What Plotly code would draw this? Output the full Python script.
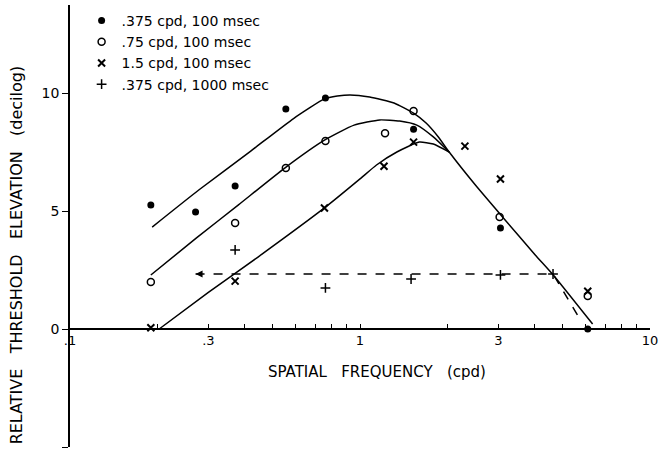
import plotly.graph_objects as go

# ---- data ----
x_tick_vals = [0.1, 0.3, 1, 3, 10]
x_tick_text = [".1", ".3", "1", "3", "10"]
x_minor_vals = [0.2, 0.4, 0.5, 0.6, 0.7, 0.8, 0.9, 2, 4, 5, 6, 7, 8, 9]
y_tick_vals = [-5, 0, 5, 10]
y_tick_text = ["-5", "0", "5", "10"]

legend_names = [".375 cpd, 100 msec", ".75 cpd, 100 msec", "1.5 cpd, 100 msec", ".375 cpd, 1000 msec"]

# .375 cpd, 100 msec (filled circles)
f375_x = [0.19, 0.271, 0.371, 0.555, 0.76, 1.53, 3.05, 6.1]
f375_y = [5.25, 4.96, 6.06, 9.32, 9.79, 8.47, 4.28, 0.0]
# .75 cpd, 100 msec (open circles)
o75_x = [0.19, 0.371, 0.555, 0.76, 1.22, 1.53, 3.03, 6.1]
o75_y = [1.99, 4.49, 6.82, 7.97, 8.30, 9.24, 4.75, 1.40]
# 1.5 cpd, 100 msec (crosses)
x15_x = [0.19, 0.371, 0.754, 1.21, 1.53, 2.3, 3.05, 6.1]
x15_y = [0.05, 2.03, 5.13, 6.90, 7.92, 7.75, 6.36, 1.60]
# .375 cpd, 1000 msec (plus)
p375_x = [0.371, 0.76, 1.5, 3.05, 4.63]
p375_y = [3.35, 1.74, 2.12, 2.29, 2.33]

# fitted curves
fit_top_x = [0.192, 0.278, 0.42, 0.59, 0.754, 0.835, 0.924, 1.08, 1.31, 1.53, 1.69, 1.86, 2.03, 2.5, 3.1, 4.02, 4.63, 6.34]
fit_top_y = [4.32, 5.89, 7.54, 8.92, 9.75, 9.87, 9.92, 9.83, 9.58, 9.15, 8.73, 8.15, 7.5, 6.1, 4.75, 3.14, 2.3, 0.21]
fit_mid_x = [0.19, 0.273, 0.38, 0.55, 0.754, 0.954, 1.17, 1.37, 1.57, 1.79, 2.03]
fit_mid_y = [2.29, 3.86, 5.25, 6.82, 8.0, 8.64, 8.86, 8.81, 8.64, 8.14, 7.5]
fit_bot_x = [0.203, 0.3, 0.445, 0.754, 1.0, 1.14, 1.34, 1.6, 1.79, 2.03]
fit_bot_y = [0.0, 1.55, 3.05, 5.13, 6.36, 6.95, 7.5, 7.92, 7.84, 7.5]

dash_x = [0.271, 4.63, 5.81]
dash_y = [2.33, 2.33, 0.3]

fig = go.Figure()
line_style = dict(color="black", width=1.5)
for cx, cy in [(fit_top_x, fit_top_y), (fit_mid_x, fit_mid_y), (fit_bot_x, fit_bot_y)]:
    fig.add_trace(go.Scatter(x=cx, y=cy, mode="lines", line=dict(shape="spline", smoothing=0.5, **line_style),
                             showlegend=False, hoverinfo="skip"))
fig.add_trace(go.Scatter(x=dash_x, y=dash_y, mode="lines", line=dict(color="black", width=1.5, dash="dash"),
                         showlegend=False, hoverinfo="skip"))
fig.add_trace(go.Scatter(x=dash_x[:1], y=dash_y[:1], mode="markers",
                         marker=dict(symbol="arrow-left", size=7, color="black"),
                         showlegend=False, hoverinfo="skip"))

fig.add_trace(go.Scatter(x=f375_x, y=f375_y, mode="markers", name=legend_names[0],
                         marker=dict(symbol="circle", size=7, color="black")))
fig.add_trace(go.Scatter(x=o75_x, y=o75_y, mode="markers", name=legend_names[1],
                         marker=dict(symbol="circle-open", size=7, color="black", line=dict(width=1.5))))
fig.add_trace(go.Scatter(x=x15_x, y=x15_y, mode="markers", name=legend_names[2],
                         marker=dict(symbol="x-thin", size=7, color="black", line=dict(width=2, color="black"))))
fig.add_trace(go.Scatter(x=p375_x, y=p375_y, mode="markers", name=legend_names[3],
                         marker=dict(symbol="cross-thin", size=7, color="black", line=dict(width=1.5, color="black"))))

ylo, yhi = -5, 13.73
fig.update_layout(
    width=660, height=450,
    margin=dict(l=70, r=10, t=5, b=3),
    paper_bgcolor="white", plot_bgcolor="white",
    font=dict(family="DejaVu Sans", size=13, color="black"),
    legend=dict(x=0.02, y=1.0, xanchor="left", yanchor="top", bgcolor="rgba(0,0,0,0)",
                font=dict(size=14), itemwidth=30, tracegroupgap=0),
    xaxis=dict(type="log", range=[-1, 1], anchor="free", position=(0 - ylo) / (yhi - ylo),
               automargin=False,
               showline=True, linecolor="black", linewidth=1.5, showgrid=False, zeroline=False,
               ticks="inside", ticklen=4, tickcolor="black", tickvals=x_tick_vals, ticktext=x_tick_text,
               tickfont=dict(size=13), ticklabeloverflow="allow",
               minor=dict(tickvals=x_minor_vals, ticks="inside", ticklen=4, tickcolor="black", showgrid=False)),
    yaxis=dict(range=[ylo, yhi], showline=True, linecolor="black", linewidth=1.5, showgrid=False,
               automargin=False,
               zeroline=False, ticks="outside", ticklen=6, tickcolor="black",
               tickvals=y_tick_vals, ticktext=y_tick_text, tickfont=dict(size=14)),
    annotations=[
        dict(text="SPATIAL   FREQUENCY   (cpd)", xref="paper", yref="paper", x=0.53, y=0.17,
             showarrow=False, font=dict(size=15), xanchor="center", yanchor="middle"),
        dict(text="RELATIVE   THRESHOLD   ELEVATION   (decilog)", xref="paper", yref="paper",
             x=-0.092, y=0.435, showarrow=False, textangle=-90, font=dict(size=16),
             xanchor="center", yanchor="middle"),
    ],
)

fig.write_html("out.html")
